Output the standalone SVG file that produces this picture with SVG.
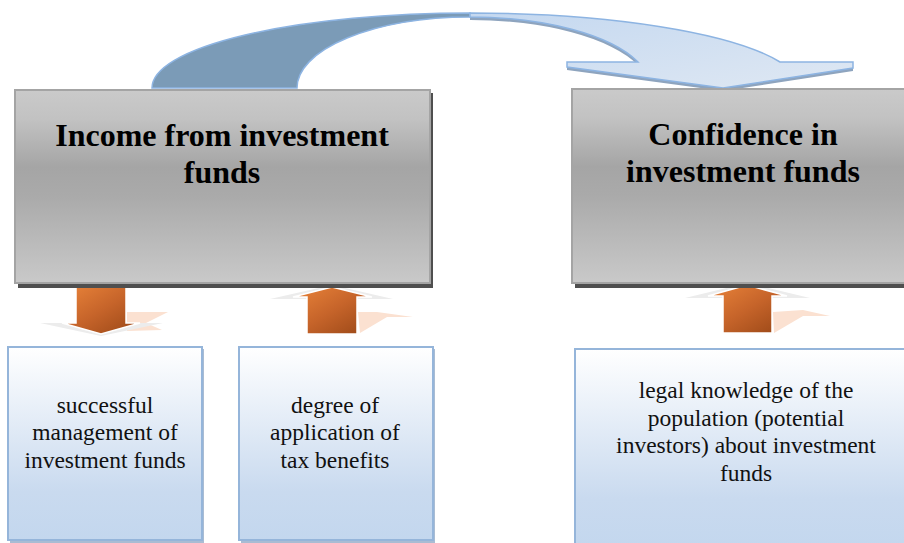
<svg xmlns="http://www.w3.org/2000/svg" width="904" height="543" viewBox="0 0 904 543">
<defs>
<linearGradient id="gray" x1="0" y1="0" x2="0" y2="1">
<stop offset="0" stop-color="#cacaca"/>
<stop offset="0.15" stop-color="#c2c2c2"/>
<stop offset="0.4" stop-color="#a5a5a5"/>
<stop offset="0.55" stop-color="#aaaaaa"/>
<stop offset="1" stop-color="#c9c9c9"/>
</linearGradient>
<linearGradient id="blue" x1="0" y1="0" x2="0" y2="1">
<stop offset="0" stop-color="#ffffff"/>
<stop offset="0.75" stop-color="#c9daef"/>
<stop offset="1" stop-color="#c3d7ee"/>
</linearGradient>
<linearGradient id="orange" x1="0" y1="0" x2="1" y2="1">
<stop offset="0" stop-color="#ea843a"/>
<stop offset="0.5" stop-color="#c6642a"/>
<stop offset="1" stop-color="#984616"/>
</linearGradient>
<linearGradient id="arcLight" x1="0" y1="0" x2="1" y2="1">
<stop offset="0" stop-color="#c4d8f0"/>
<stop offset="1" stop-color="#dfe8f3"/>
</linearGradient>
<style>
.big{fill:url(#gray);stroke:#a4a4a4;stroke-width:2}
.bigsh{fill:#4f4f4f}
.small{fill:url(#blue);stroke:#95b5da;stroke-width:2}
.smallsh{fill:#a9bcd3}
.title{font-family:"Liberation Serif","Times New Roman",serif;font-weight:bold;font-size:32px;fill:#000;text-anchor:middle}
.body{font-family:"Liberation Serif","Times New Roman",serif;font-size:23.5px;fill:#111;text-anchor:middle}
.arr{fill:url(#orange);stroke:#ffffff;stroke-width:1.5}
.glow{fill:#ececec}
.peach{fill:#fbe1d1}
.arc{stroke:#8db4e2;stroke-width:1.5}
</style>
</defs>

<g id="connectors">
<!-- curved arrow -->
<g id="curved-arrow">
<path d="M470,16 A330,75 0 0 1 780,65 L853,65 L853,71 L723,91 L567,70 L567,65 L638,65 A180,71 0 0 0 470,20 Z" fill="#8ea4be"/>
<path class="arc" d="M152,88 A318,75 0 0 1 470,13 L470,17 A173,71 0 0 0 297,88 Z" fill="#7b9bb7"/>
<path class="arc" d="M470,13 A330,75 0 0 1 780,62 L853,62 L853,68 L723,88 L567,67 L567,62 L638,62 A180,71 0 0 0 470,17 Z" fill="url(#arcLight)"/>
</g>
<!-- arrow 1 down -->
<g id="arrow-down-1">
<polygon class="peach" points="127,312 168,312 146,323 162,330 127,331"/>
<polygon class="glow" points="40,323 163,323 101,336"/>
<polygon class="arr" points="76,287 126,287 126,323 140,323 101,334 62,323 76,323"/>
</g>
<!-- arrow 2 up -->
<g id="arrow-up-2">
<polygon class="peach" points="358,312 377,312 413,317 387,317 360,333"/>
<polygon class="glow" points="332,285 393,299 270,299"/>
<polygon class="arr" points="332,287 372,297 357,297 357,334 307,334 307,297 293,297"/>
</g>
<!-- arrow 3 up -->
<g id="arrow-up-3">
<polygon class="peach" points="773,312 803,310 830,316 803,316 774,333"/>
<polygon class="glow" points="747,283 810,298 685,298"/>
<polygon class="arr" points="747,285 787,296 772,296 772,333 723,333 723,296 708,296"/>
</g>
</g>

<g id="node-income">
<rect class="bigsh" x="18" y="93" width="415" height="195"/>
<rect class="big" x="15" y="90" width="415" height="193"/>
<text class="title" x="222" y="146">Income from investment</text>
<text class="title" x="222" y="183">funds</text>
</g>

<g id="node-confidence">
<rect class="bigsh" x="575" y="92" width="340" height="196"/>
<rect class="big" x="572" y="89" width="340" height="194"/>
<text class="title" x="743" y="145">Confidence in</text>
<text class="title" x="743" y="182">investment funds</text>
</g>

<g id="node-management">
<rect class="smallsh" x="10" y="349" width="194" height="194"/>
<rect class="small" x="8" y="347" width="194" height="193"/>
<text class="body" x="105" y="413">successful</text>
<text class="body" x="105" y="440">management of</text>
<text class="body" x="105" y="468">investment funds</text>
</g>

<g id="node-tax">
<rect class="smallsh" x="241" y="349" width="194" height="194"/>
<rect class="small" x="239" y="347" width="194" height="193"/>
<text class="body" x="335" y="413">degree of</text>
<text class="body" x="335" y="440">application of</text>
<text class="body" x="335" y="468">tax benefits</text>
</g>

<g id="node-legal">
<rect class="small" x="575" y="349" width="340" height="200"/>
<text class="body" x="746" y="398">legal knowledge of the</text>
<text class="body" x="746" y="426">population (potential</text>
<text class="body" x="746" y="453">investors) about investment</text>
<text class="body" x="746" y="481">funds</text>
</g>
</svg>
